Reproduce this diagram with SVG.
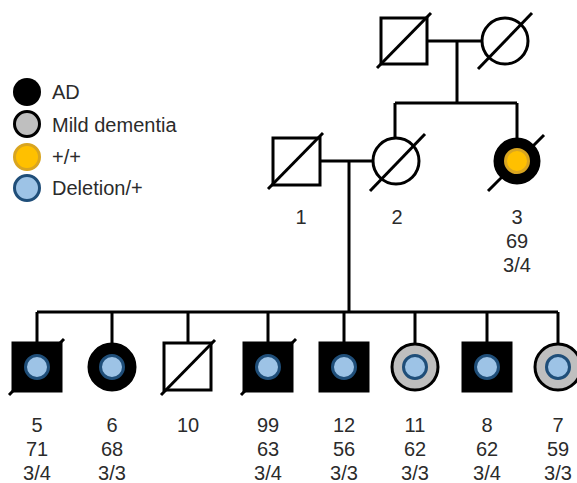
<svg xmlns="http://www.w3.org/2000/svg" width="577" height="483" viewBox="0 0 577 483">
<style>
.ln{stroke:#000;stroke-width:3;fill:none}
.open{fill:#fff;stroke:#000;stroke-width:3}
.aff{fill:#000;stroke:#000;stroke-width:3}
.mild{fill:#bfbfbf;stroke:#000;stroke-width:3}
.del{fill:#9dc3e6;stroke:#1f4e79;stroke-width:3}
.hom{fill:#ffc000;stroke:#d9a520;stroke-width:3}
.sl{stroke:#000;stroke-width:3}
text{font-family:"Liberation Sans",Arial,sans-serif;font-size:20px;fill:#2b2b2b}
.c{text-anchor:middle}
</style>
<rect width="577" height="483" fill="#fff"/>
<g id="connectors">
<path class="ln" d="M427 41H481M457 41V103M395 103H517M395 103V138M517 103V138"/>
<path class="ln" d="M320 161H373M349 161V312M37 312H558M37 312V343M112 312V343M188 312V343M268 312V343M344 312V343M415 312V343M487 312V343M558 312V343"/>
</g>
<g id="legend">
<circle cx="27" cy="92" r="14" fill="#000"/>
<text x="52" y="99">AD</text>
<circle class="mild" cx="27" cy="124" r="12.5"/>
<text x="52" y="132">Mild dementia</text>
<circle class="hom" cx="27" cy="157" r="12.5"/>
<text x="52" y="164">+/+</text>
<circle class="del" cx="27" cy="188" r="12.5"/>
<text x="52" y="195">Deletion/+</text>
</g>
<g id="gf">
<rect class="open" x="381" y="18" width="46" height="46"/>
<line class="sl" x1="377" y1="68" x2="431" y2="13"/>
</g>
<g id="gm">
<circle class="open" cx="505" cy="41" r="23"/>
<line class="sl" x1="478" y1="69" x2="532" y2="13"/>
</g>
<g id="n1">
<rect class="open" x="273" y="138" width="47" height="47"/>
<line class="sl" x1="268" y1="189" x2="323" y2="133"/>
<text class="c" x="301" y="224">1</text>
</g>
<g id="n2">
<circle class="open" cx="396" cy="161" r="23"/>
<line class="sl" x1="370" y1="191" x2="425" y2="134"/>
<text class="c" x="397" y="224">2</text>
</g>
<g id="n3">
<line class="sl" x1="488" y1="191" x2="544" y2="135"/>
<circle class="aff" cx="517" cy="161" r="22"/>
<circle class="hom" cx="517" cy="161" r="11.5"/>
<text class="c" x="517" y="224">3</text>
<text class="c" x="517" y="248">69</text>
<text class="c" x="517" y="272">3/4</text>
</g>
<g id="n5">
<line class="sl" x1="9" y1="395" x2="64" y2="339"/>
<rect class="aff" x="13" y="343" width="48" height="48"/>
<circle class="del" cx="37" cy="367" r="11.5"/>
<text class="c" x="37" y="432">5</text>
<text class="c" x="37" y="456">71</text>
<text class="c" x="37" y="480">3/4</text>
</g>
<g id="n6">
<circle class="aff" cx="112" cy="367" r="23"/>
<circle class="del" cx="112" cy="367" r="11.5"/>
<text class="c" x="112" y="432">6</text>
<text class="c" x="112" y="456">68</text>
<text class="c" x="112" y="480">3/3</text>
</g>
<g id="n10">
<rect class="open" x="164" y="343" width="47" height="47"/>
<line class="sl" x1="161" y1="395" x2="215" y2="340"/>
<text class="c" x="188" y="432">10</text>
</g>
<g id="n99">
<line class="sl" x1="241" y1="395" x2="296" y2="339"/>
<rect class="aff" x="244" y="343" width="48" height="48"/>
<circle class="del" cx="268" cy="367" r="11.5"/>
<text class="c" x="268" y="432">99</text>
<text class="c" x="268" y="456">63</text>
<text class="c" x="268" y="480">3/4</text>
</g>
<g id="n12">
<rect class="aff" x="320" y="343" width="48" height="48"/>
<circle class="del" cx="344" cy="367" r="11.5"/>
<text class="c" x="344" y="432">12</text>
<text class="c" x="344" y="456">56</text>
<text class="c" x="344" y="480">3/3</text>
</g>
<g id="n11">
<circle class="mild" cx="415" cy="367" r="23"/>
<circle class="del" cx="415" cy="367" r="11.5"/>
<text class="c" x="415" y="432">11</text>
<text class="c" x="415" y="456">62</text>
<text class="c" x="415" y="480">3/3</text>
</g>
<g id="n8">
<rect class="aff" x="463" y="343" width="48" height="48"/>
<circle class="del" cx="487" cy="367" r="11.5"/>
<text class="c" x="487" y="432">8</text>
<text class="c" x="487" y="456">62</text>
<text class="c" x="487" y="480">3/4</text>
</g>
<g id="n7">
<circle class="mild" cx="558" cy="367" r="23"/>
<circle class="del" cx="558" cy="367" r="11.5"/>
<text class="c" x="558" y="432">7</text>
<text class="c" x="558" y="456">59</text>
<text class="c" x="558" y="480">3/3</text>
</g>
</svg>
